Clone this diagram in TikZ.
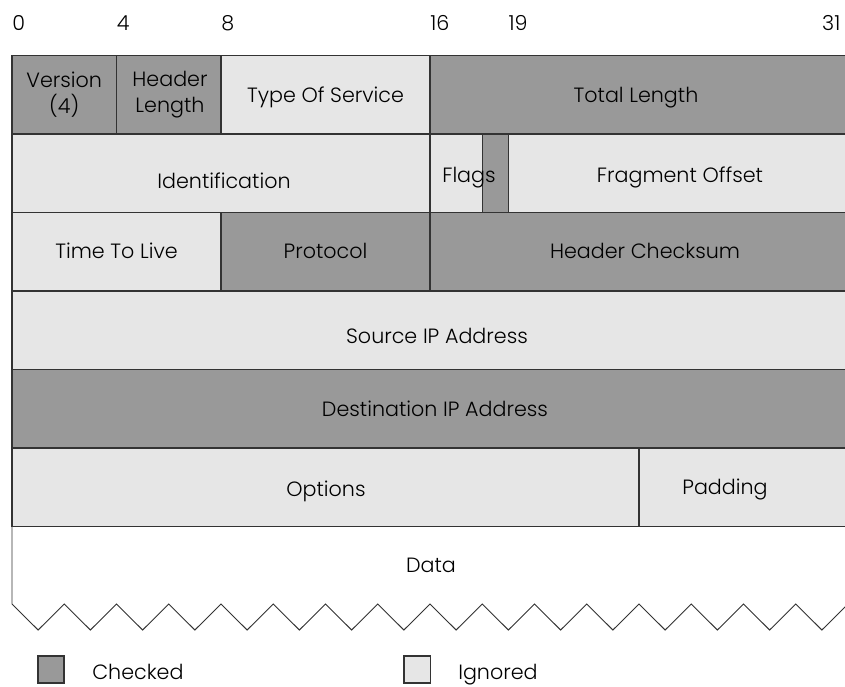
\documentclass[tikz,border=0pt]{standalone}
\usepackage{fontspec}
\setmainfont{Poppins}[UprightFont=* Light]
\definecolor{checked}{HTML}{999999}
\definecolor{ignored}{HTML}{E6E6E6}
\definecolor{rule}{HTML}{333333}
\begin{document}
\begin{tikzpicture}[x=0.75pt,y=-0.75pt,
  field/.style={draw=rule,line width=1.1pt},
  chk/.style={field,fill=checked},
  ign/.style={field,fill=ignored},
  lbl/.style={inner sep=0pt,font=\fontsize{15.5}{19.5}\selectfont,text=black,anchor=base},
  lbltwo/.style={lbl,anchor=center,align=center},
  bitno/.style={lbl,anchor=base west},
  teeth/.style={draw=rule,line width=0.7pt,line join=miter},
  key/.style={draw=rule,line width=0.9pt}]
\useasboundingbox (0,0) rectangle (845,686);

% bit numbers along the top
\node[bitno] (b0)  at (12,30)     {0};
\node[bitno] (b4)  at (116.5,30)  {4};
\node[bitno] (b8)  at (221,30)    {8};
\node[bitno] (b16) at (430,30)    {16};
\node[bitno] (b19) at (508.4,30)  {19};
\node[bitno] (b31) at (821.9,30)  {31};

% word 1
\path[chk] (12,55.5)    rectangle (116.5,134);
\path[chk] (116.5,55.5) rectangle (221,134);
\path[ign] (221,55.5)   rectangle (430,134);
\path[chk] (430,55.5)   rectangle (848,134);
% word 2
\path[ign] (12,134)     rectangle (430,212.5);
\path[ign] (430,134)    rectangle (482.25,212.5);
\path[chk] (482.25,134) rectangle (508.4,212.5);
\path[ign] (508.4,134)  rectangle (848,212.5);
% word 3
\path[ign] (12,212.5)   rectangle (221,291);
\path[chk] (221,212.5)  rectangle (430,291);
\path[chk] (430,212.5)  rectangle (848,291);
% words 4 and 5
\path[ign] (12,291)     rectangle (848,369.5);
\path[chk] (12,369.5)   rectangle (848,448);
% word 6
\path[ign] (12,448)     rectangle (639,526.5);
\path[ign] (639,448)    rectangle (848,526.5);
% data area with torn lower edge
\draw[teeth] (12,526.5) -- (12,604)
  \foreach \k in {0,...,15} { -- ({38.125+52.25*\k},630) -- ({64.25+52.25*\k},604) }
  -- (848,526.5);

% field names
\node[lbltwo] (version) at (64.25,95)   {Version\\(4)};
\node[lbltwo] (ihl)     at (170,95)     {Header\\Length};
\node[lbl] (tos)      at (325.5,102.7)  {Type Of Service};
\node[lbl] (totlen)   at (636,102.7)    {Total Length};
\node[lbl] (ident)    at (224,188)      {Identification};
\node[lbl] (flags)    at (469,182)      {Flags};
\node[lbl] (fragoff)  at (680,182)      {Fragment Offset};
\node[lbl] (ttl)      at (116.5,258.5)  {Time To Live};
\node[lbl] (proto)    at (325.5,258.5)  {Protocol};
\node[lbl] (cksum)    at (645,258.5)    {Header Checksum};
\node[lbl] (srcip)    at (437,343)      {Source IP Address};
\node[lbl] (dstip)    at (435,416)      {Destination IP Address};
\node[lbl] (options)  at (326,496.5)    {Options};
\node[lbl] (padding)  at (725,494.5)    {Padding};
\node[lbl] (data)     at (431,572)      {Data};

% legend
\path[key,fill=checked] (38,656)  rectangle (64,683);
\node[bitno] (kchk) at (92,679)  {Checked};
\path[key,fill=ignored] (404,656) rectangle (430.5,683);
\node[bitno] (kign) at (458,679) {Ignored};
\end{tikzpicture}
\end{document}
